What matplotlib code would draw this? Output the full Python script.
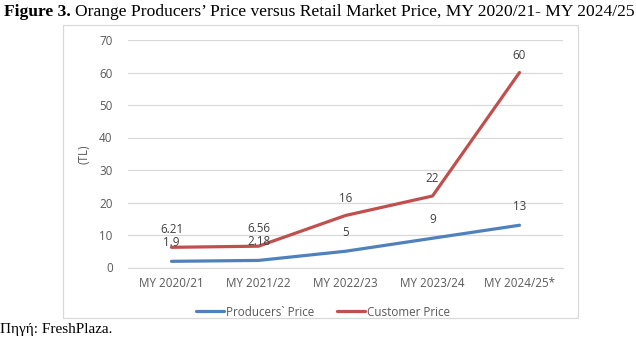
import matplotlib
matplotlib.use('Agg')
import matplotlib.pyplot as plt
from matplotlib.patches import Rectangle

# data
years = ['MY 2020/21', 'MY 2021/22', 'MY 2022/23', 'MY 2023/24', 'MY 2024/25*']
producers = [1.9, 2.18, 5, 9, 13]
customer = [6.21, 6.56, 16, 22, 60]
producers_labels = ['1.9', '2.18', '5', '9', '13']
customer_labels = ['6.21', '6.56', '16', '22', '60']

W, H = 636, 348
fig = plt.figure(figsize=(W / 100, H / 100), dpi=100)

# plot area in pixel terms -> figure fractions
left, right, top, bottom = 128, 563, 40, 267.5
ax = fig.add_axes([left / W, 1 - bottom / H, (right - left) / W, (bottom - top) / H])

blue = '#4F81BD'
red = '#C0504D'
grey_text = '#595959'
grid = '#D9D9D9'
sans = ['Open Sans', 'DejaVu Sans']
fs = 8.4

x = list(range(len(years)))
ax.plot(x, producers, color=blue, lw=2.3, solid_capstyle='round', label='Producers` Price', zorder=3)
ax.plot(x, customer, color=red, lw=2.3, solid_capstyle='round', label='Customer Price', zorder=3)

for xi, v, s in zip(x, producers, producers_labels):
    ax.annotate(s, (xi, v), xytext=(0, 13.5), textcoords='offset points', ha='center', va='center',
                fontsize=fs, color='#404040', family=sans, zorder=4)
for xi, v, s in zip(x, customer, customer_labels):
    ax.annotate(s, (xi, v), xytext=(0, 12.5), textcoords='offset points', ha='center', va='center',
                fontsize=fs, color='#404040', family=sans, zorder=4)

ax.set_xlim(-0.5, len(years) - 0.5)
ax.set_ylim(0, 70)
ax.set_yticks(range(0, 71, 10))
ax.set_xticks(x)
ax.set_xticklabels(years)
ax.grid(axis='y', color=grid, lw=0.9)
ax.set_axisbelow(True)
for side in ['top', 'right', 'left']:
    ax.spines[side].set_visible(False)
ax.spines['bottom'].set_color(grid)
ax.spines['bottom'].set_linewidth(0.9)
ax.tick_params(length=0, labelsize=fs, colors=grey_text, pad=7)
ax.tick_params(axis='y', pad=11)
for lbl in ax.get_xticklabels() + ax.get_yticklabels():
    lbl.set_family(sans)
ax.set_ylabel('(TL)', fontsize=fs, color=grey_text, family=sans, labelpad=6)

leg = fig.legend(loc='center', bbox_to_anchor=(323 / W, 1 - 312 / H), ncol=2, frameon=False,
                 handlelength=2.4, handletextpad=0.15, columnspacing=2.0,
                 prop={'family': sans, 'size': fs})
for t in leg.get_texts():
    t.set_color(grey_text)

# chart border
fig.patches.append(Rectangle((63 / W, 1 - 318 / H), (578 - 63) / W, (318 - 25) / H,
                             transform=fig.transFigure, fill=False, edgecolor=grid, lw=0.9))

# title: bold lead-in, then the rest placed right after it
tfs = 12.6
bold = fig.text(4 / W, 1 - 12 / H, 'Figure 3.', fontsize=tfs, fontweight='bold', family='Liberation Serif',
                va='center', ha='left')
renderer = fig.canvas.get_renderer()
bb = bold.get_window_extent(renderer)
fig.text((bb.x1 + 4) / W, 1 - 12 / H,
         'Orange Producers\u2019 Price versus Retail Market Price, MY 2020/21- MY 2024/25',
         fontsize=tfs, family='Liberation Serif', va='center', ha='left')
fig.text(0, 1 - 329 / H, 'Πηγή: FreshPlaza.', fontsize=11, family='Liberation Serif', va='center', ha='left')

fig.savefig('out.png', dpi=100)
